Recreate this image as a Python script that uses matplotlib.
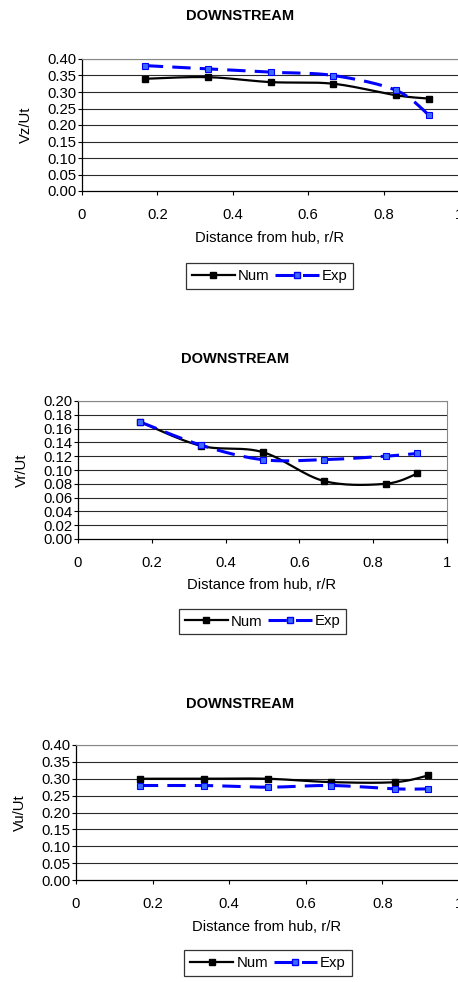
import numpy as np
import matplotlib
matplotlib.use('Agg')
import matplotlib.pyplot as plt

plt.rcParams['font.family'] = ['Liberation Sans', 'DejaVu Sans']

# radial stations r/R
r_R = [1/6, 2/6, 3/6, 4/6, 5/6, 0.92]

vz_num = [0.340, 0.345, 0.330, 0.325, 0.290, 0.280]
vz_exp = [0.380, 0.370, 0.360, 0.350, 0.305, 0.230]

vr_num = [0.170, 0.135, 0.126, 0.084, 0.080, 0.095]
vr_exp = [0.170, 0.136, 0.115, 0.115, 0.120, 0.124]

vu_num = [0.300, 0.300, 0.300, 0.290, 0.290, 0.310]
vu_exp = [0.280, 0.280, 0.275, 0.280, 0.270, 0.270]

titles = ['DOWNSTREAM', 'DOWNSTREAM', 'DOWNSTREAM']
ylabels = ['Vz/Ut', 'Vr/Ut', 'Vu/Ut']
xlabel = 'Distance from hub, r/R'


def smooth(x, y, n=30):
    """Catmull-Rom style curve through the points (like Excel 'smoothed line')."""
    x = np.asarray(x, float)
    y = np.asarray(y, float)
    px = np.concatenate([[x[0]], x, [x[-1]]])
    py = np.concatenate([[y[0]], y, [y[-1]]])
    xs, ys = [], []
    t = np.linspace(0, 1, n)
    for i in range(1, len(px) - 2):
        p0 = np.array([px[i], py[i]])
        p3 = np.array([px[i + 1], py[i + 1]])
        c1 = p0 + (np.array([px[i + 1], py[i + 1]]) - np.array([px[i - 1], py[i - 1]])) / 6
        c2 = p3 - (np.array([px[i + 2], py[i + 2]]) - np.array([px[i], py[i]])) / 6
        b = ((1 - t) ** 3)[:, None] * p0 + (3 * (1 - t) ** 2 * t)[:, None] * c1 \
            + (3 * (1 - t) * t ** 2)[:, None] * c2 + (t ** 3)[:, None] * p3
        xs.extend(b[:, 0])
        ys.extend(b[:, 1])
    return xs, ys


W, H = 458, 982
fig = plt.figure(figsize=(W / 100, H / 100), dpi=100)

EXP_DASH = (0, (6, 3))

panels = [
    # axes rect in px (left, top, right, bottom), ymax, step, title xy, xlabel xy, legend xy
    ((82, 59, 459, 191), 0.40, 0.05, (240, 16), (270, 238), (269.5, 276), vz_num, vz_exp),
    ((78, 401, 447, 539), 0.20, 0.02, (235, 359), (262, 585), (262.5, 621.5), vr_num, vr_exp),
    ((76, 745, 459, 880), 0.40, 0.05, (240, 704), (267, 927), (268, 963), vu_num, vu_exp),
]

for k, (box, ymax, step, tpos, xpos, lpos, num, exp) in enumerate(panels):
    l, t, r, b = box
    ax = fig.add_axes([l / W, 1 - b / H, (r - l) / W, (b - t) / H])
    ax.set_xlim(0, 1)
    ax.set_ylim(0, ymax)
    yt = np.arange(0, ymax + step / 2, step)
    ax.set_yticks(yt)
    ax.set_yticklabels([f'{v:.2f}' for v in yt])
    ax.set_xticks([0, 0.2, 0.4, 0.6, 0.8, 1])
    ax.set_xticklabels(['0', '0.2', '0.4', '0.6', '0.8', '1'])
    for v in yt[1:]:
        ax.axhline(v, color='#2a2a2a', lw=0.8, zorder=1)
    ax.tick_params(axis='both', direction='out', length=3, width=0.8, labelsize=10.7, pad=1)
    ax.tick_params(axis='x', pad=9)
    for s in ['top', 'right']:
        ax.spines[s].set_color('#888888')
        ax.spines[s].set_linewidth(0.8)
    for s in ['left', 'bottom']:
        ax.spines[s].set_color('black')
        ax.spines[s].set_linewidth(0.9)

    sx, sy = smooth(r_R, num)
    ax.plot(sx, sy, color='black', lw=1.6, zorder=3)
    ax.plot(r_R, num, ls='none', marker='s', ms=4.8, color='black', zorder=4)
    ex, ey = smooth(r_R, exp)
    ax.plot(ex, ey, color='#0000ff', lw=2.2, ls=EXP_DASH, zorder=3)
    ax.plot(r_R, exp, ls='none', marker='s', ms=4.8, mfc='#3c6cff', mec='#0000ff',
            mew=0.8, zorder=4)

    ax.set_ylabel(ylabels[k], fontsize=10.7, labelpad=10)

    fig.text(tpos[0] / W, 1 - tpos[1] / H, titles[k], ha='center', va='center',
             fontsize=10.5, fontweight='bold')
    fig.text(xpos[0] / W, 1 - xpos[1] / H, xlabel, ha='center', va='center', fontsize=10.7)

    # legend
    h1, = ax.plot([], [], color='black', lw=1.6, marker='s', ms=4.8)
    h2, = ax.plot([], [], color='#0000ff', lw=2.2, ls=EXP_DASH, marker='s', ms=4.8,
                  mfc='#3c6cff', mec='#0000ff')
    leg = fig.legend([h1, h2], ['Num', 'Exp'], loc='center',
                     bbox_to_anchor=(lpos[0] / W, 1 - lpos[1] / H),
                     ncol=2, fontsize=10.7, frameon=True, fancybox=False, edgecolor='black',
                     handlelength=2.9, handletextpad=0.2, columnspacing=0.4,
                     borderpad=0.4, borderaxespad=0)
    leg.get_frame().set_linewidth(0.9)

fig.savefig('out.png', dpi=100)
